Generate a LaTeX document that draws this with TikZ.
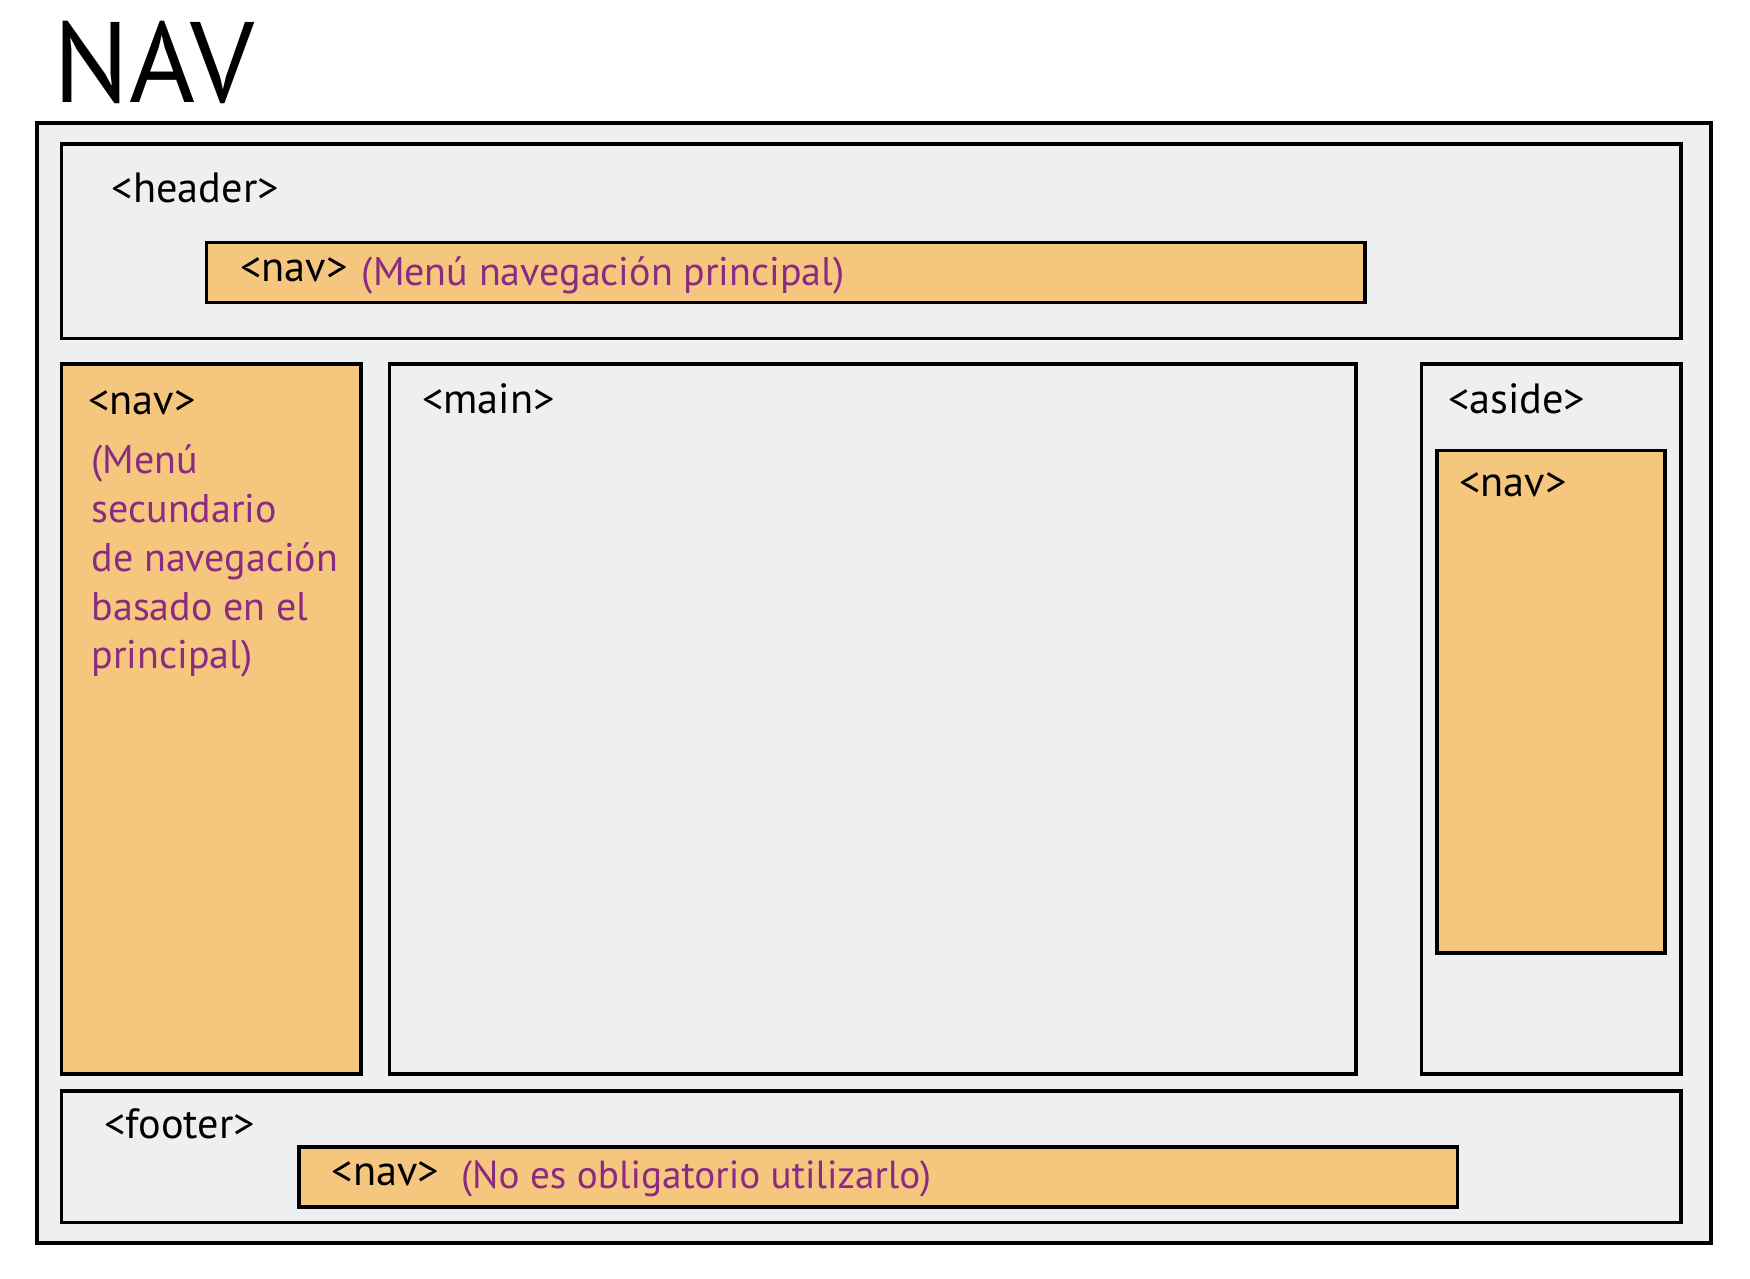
\documentclass[tikz,border=0pt]{standalone}
\usepackage{fontspec}
\setmainfont{PT Sans}
\definecolor{boxgray}{HTML}{EEEFF1}
\definecolor{navorange}{HTML}{F5C77E}
\definecolor{navpurple}{HTML}{8B2A82}
\begin{document}
\begin{tikzpicture}[x=1pt,y=-1pt,
  box/.style={draw=black, line width=3.6pt, fill=boxgray, inner sep=0pt, outer sep=0pt, anchor=north west},
  navbox/.style={box, fill=navorange},
  lbl/.style={anchor=base west, inner sep=0pt, font=\fontsize{42.3}{49}\selectfont},
  plbl/.style={anchor=base west, inner sep=0pt, text=navpurple, font=\fontsize{40}{49}\selectfont}]
\useasboundingbox (0,0) rectangle (1750,1278);
\fill[white] (0,0) rectangle (1750,1278);
\node[box, minimum width=1674.2pt, minimum height=1120.2pt] (outer) at (36.8,122.8) {};
\node[box, minimum width=1619.4pt, minimum height=194.6pt] (header) at (61.4,144) {};
\node[navbox, minimum width=1158.5pt, minimum height=60pt] (hnav) at (206.5,242.4) {};
\node[navbox, minimum width=299.3pt, minimum height=709.7pt] (lnav) at (61.4,364) {};
\node[box, minimum width=966.5pt, minimum height=709.7pt] (main) at (389.5,364) {};
\node[box, minimum width=259.3pt, minimum height=709.7pt] (aside) at (1421.5,364) {};
\node[navbox, minimum width=228.5pt, minimum height=502.7pt] (anav) at (1436.7,450.5) {};
\node[box, minimum width=1619.4pt, minimum height=131.5pt] (footer) at (61.4,1091) {};
\node[navbox, minimum width=1158.5pt, minimum height=59.7pt] (fnav) at (299.1,1147) {};
% texts
\node[anchor=base west, inner sep=0pt, font=\fontsize{104}{110}\selectfont] (title) at (53,102.7) {\scalebox{1.085}[1.1]{NAV}};
\node[lbl] (theader) at (111.6,202) {<header>};
\node[lbl] (thnav) at (240,281) {<nav>};
\node[plbl] (thnavp) at (361.6,285) {(Menú navegación principal)};
\node[lbl] (tlnav) at (88,414) {<nav>};
\node[plbl] (tl1) at (91.5,473) {(Menú};
\node[plbl] (tl2) at (91.5,522) {secundario};
\node[plbl] (tl3) at (91.5,571) {de navegación};
\node[plbl] (tl4) at (91.5,620) {basado en el};
\node[plbl] (tl5) at (91.5,668) {principal)};
\node[lbl] (tmain) at (422,413) {<main>};
\node[lbl] (taside) at (1448,413) {<aside>};
\node[lbl] (tanav) at (1459,496) {<nav>};
\node[lbl] (tfooter) at (104,1138) {<footer>};
\node[lbl] (tfnav) at (331.5,1185) {<nav>};
\node[plbl, font=\fontsize{39.2}{49}\selectfont] (tfnavp) at (461,1188) {(No es obligatorio utilizarlo)};
\end{tikzpicture}
\end{document}
